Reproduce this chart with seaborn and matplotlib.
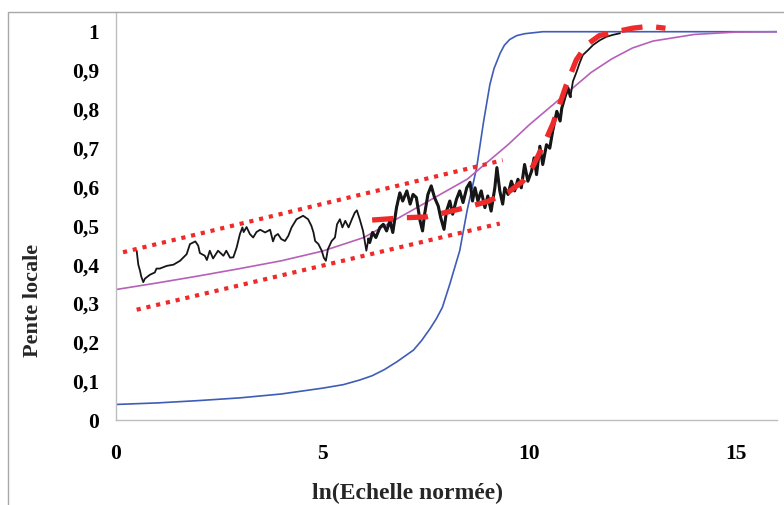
import matplotlib
matplotlib.use("Agg")
import matplotlib.pyplot as plt
import seaborn as sns
from matplotlib.patches import Rectangle

# ---- données ----
y_ticks = [0, 0.1, 0.2, 0.3, 0.4, 0.5, 0.6, 0.7, 0.8, 0.9, 1]
y_tick_labels = ["0", "0,1", "0,2", "0,3", "0,4", "0,5", "0,6", "0,7", "0,8", "0,9", "1"]
x_ticks = [0, 5, 10, 15]
x_tick_labels = ["0", "5", "10", "15"]

# courbe bleue (sigmoïde raide)
blue_x = [0, 1, 2, 3, 4, 5, 5.5, 5.9, 6.2, 6.5, 6.8, 7.2, 7.4, 7.6, 7.75, 7.9, 8.08,
          8.32, 8.5, 8.73, 8.9, 9.05, 9.15, 9.3, 9.4, 9.53, 9.7, 9.9, 10.33, 11, 16]
blue_y = [0.040, 0.044, 0.050, 0.057, 0.067, 0.082, 0.091, 0.103, 0.114, 0.13,
          0.15, 0.18, 0.205, 0.235, 0.26, 0.29, 0.35, 0.436, 0.54, 0.65, 0.77, 0.864,
          0.905, 0.945, 0.965, 0.98, 0.99, 0.995, 1.0, 1.0, 1.0]

# courbe violette (sigmoïde douce)
purple_x = [0, 1, 2, 3, 4, 5, 6, 7, 8, 8.5, 9, 9.5, 10, 10.5, 11, 11.5, 12, 12.5,
            13, 14, 15, 16]
purple_y = [0.336, 0.353, 0.371, 0.39, 0.41, 0.435, 0.47, 0.53, 0.59, 0.62, 0.665,
            0.71, 0.76, 0.805, 0.85, 0.895, 0.93, 0.958, 0.976, 0.993, 0.999, 1.0]

# pente locale mesurée (courbe noire)
black_x = [0.50, 0.54, 0.58, 0.61, 0.66, 0.70, 0.82, 0.94, 0.98, 1.06, 1.23, 1.39,
           1.55, 1.71, 1.79, 1.92, 1.99, 2.03, 2.15, 2.20, 2.27, 2.35, 2.47, 2.60,
           2.67, 2.76, 2.84, 2.92, 3.00, 3.06, 3.09, 3.16, 3.24, 3.32, 3.40, 3.49,
           3.61, 3.73, 3.80, 3.85, 3.92, 4.00, 4.09, 4.17, 4.25, 4.37, 4.53, 4.65,
           4.73, 4.78, 4.82, 4.90, 4.98, 5.03, 5.08, 5.13, 5.22, 5.30, 5.35, 5.42,
           5.48, 5.55, 5.63, 5.71, 5.78, 5.83, 5.90, 5.98, 6.02, 6.06, 6.11, 6.14,
           6.21, 6.29, 6.39, 6.47, 6.55, 6.63, 6.70, 6.79, 6.87, 6.94, 7.04, 7.12,
           7.19, 7.27, 7.36, 7.42, 7.47, 7.55, 7.63, 7.71, 7.80, 7.86, 7.94, 8.00,
           8.08, 8.15, 8.24, 8.32, 8.40, 8.49, 8.57, 8.63, 8.69, 8.76, 8.84, 8.93,
           9.00, 9.08, 9.17, 9.22, 9.29, 9.36, 9.41, 9.49, 9.57, 9.65, 9.73, 9.81,
           9.89, 9.97, 10.06, 10.12, 10.18, 10.26, 10.33, 10.42, 10.50, 10.57, 10.67,
           10.75, 10.79, 10.87, 10.94, 11.00, 11.06, 11.15, 11.22, 11.30, 11.43,
           11.55, 11.71, 11.87, 12.03, 12.20]
black_y = [0.436, 0.40, 0.385, 0.37, 0.355, 0.364, 0.374, 0.38, 0.39, 0.39, 0.397,
           0.40, 0.41, 0.427, 0.453, 0.46, 0.449, 0.43, 0.423, 0.412, 0.436, 0.416,
           0.436, 0.423, 0.436, 0.418, 0.419, 0.444, 0.479, 0.496, 0.484, 0.497,
           0.479, 0.47, 0.484, 0.49, 0.483, 0.49, 0.46, 0.474, 0.479, 0.466, 0.461,
           0.474, 0.496, 0.517, 0.526, 0.517, 0.50, 0.483, 0.461, 0.453, 0.436,
           0.418, 0.41, 0.44, 0.461, 0.47, 0.504, 0.517, 0.496, 0.513, 0.496, 0.517,
           0.534, 0.54, 0.517, 0.487, 0.461, 0.436, 0.466, 0.457, 0.483, 0.47, 0.496,
           0.504, 0.487, 0.513, 0.483, 0.547, 0.585, 0.564, 0.59, 0.556, 0.581,
           0.573, 0.513, 0.487, 0.53, 0.581, 0.603, 0.573, 0.551, 0.521, 0.491,
           0.538, 0.564, 0.53, 0.568, 0.59, 0.56, 0.598, 0.612, 0.564, 0.598, 0.564,
           0.59, 0.547, 0.577, 0.538, 0.598, 0.65, 0.59, 0.556, 0.598, 0.581, 0.615,
           0.59, 0.62, 0.598, 0.658, 0.615, 0.641, 0.675, 0.632, 0.705, 0.658, 0.709,
           0.70, 0.744, 0.795, 0.77, 0.803, 0.833, 0.855, 0.833, 0.872, 0.897, 0.919,
           0.94, 0.953, 0.966, 0.978, 0.987, 0.992, 0.996]

# ajustement (tirets rouges épais)
fit_x = [6.2, 7.0, 7.5, 8.0, 8.5, 9.0, 9.5, 9.85, 10.1, 10.42, 10.58, 10.9, 11.14,
         11.39, 11.7, 12.1, 12.5, 12.9, 13.3]
fit_y = [0.515, 0.521, 0.523, 0.535, 0.548, 0.563, 0.587, 0.615, 0.655, 0.725,
         0.764, 0.863, 0.927, 0.966, 0.99, 1.0, 1.009, 1.014, 1.009]

# enveloppe (pointillés rouges)
upper_x = [0.17, 9.36]
upper_y = [0.432, 0.669]
lower_x = [0.5, 9.29]
lower_y = [0.284, 0.506]

sns.set_style("white")
plt.rcParams["font.family"] = ["Liberation Serif", "DejaVu Serif"]

fig = plt.figure(figsize=(7.84, 5.05), dpi=100)
ax = fig.add_axes([116 / 784, 85 / 505, 661 / 784, 407.7 / 505])

red = "#EE2A2A"
sns.lineplot(x=blue_x, y=blue_y, ax=ax, color="#3F5CB8", lw=1.2, sort=False, estimator=None)
sns.lineplot(x=purple_x, y=purple_y, ax=ax, color="#B660B8", lw=1.2, sort=False, estimator=None)
sns.lineplot(x=black_x, y=black_y, ax=ax, color="#161616", lw=1.3, sort=False, estimator=None)
# partie bruitée : trait plus épais (bruit haute fréquence dense)
dense = [i for i, v in enumerate(black_x) if 6.1 <= v <= 11.0]
sns.lineplot(x=[black_x[i] for i in dense], y=[black_y[i] for i in dense], ax=ax,
             color="#161616", lw=2.2, sort=False, estimator=None)
sns.lineplot(x=upper_x, y=upper_y, ax=ax, color=red, lw=3.0, sort=False, estimator=None,
             linestyle=(0, (1.0, 1.4)))
sns.lineplot(x=lower_x, y=lower_y, ax=ax, color=red, lw=3.0, sort=False, estimator=None,
             linestyle=(0, (1.0, 1.4)))
sns.lineplot(x=fit_x, y=fit_y, ax=ax, color=red, lw=3.8, sort=False, estimator=None,
             linestyle=(0, (4.0, 2.6)))

ax.set_xlim(0, 16)
ax.set_ylim(0, 1.05)
ax.set_xticks(x_ticks)
ax.set_xticklabels(x_tick_labels)
ax.set_yticks(y_ticks)
ax.set_yticklabels(y_tick_labels)
ax.set_xlabel("")
ax.set_ylabel("")

for s in ["top", "right"]:
    ax.spines[s].set_visible(False)
for s in ["left", "bottom"]:
    ax.spines[s].set_color("#BDBDBD")
    ax.spines[s].set_linewidth(1.0)

ax.tick_params(axis="both", which="major", direction="out", length=5, width=1,
               color="#BDBDBD", labelsize=15.5, labelcolor="black")
ax.tick_params(axis="y", pad=7)
ax.tick_params(axis="x", pad=12)
for lab in ax.get_xticklabels() + ax.get_yticklabels():
    lab.set_fontweight("bold")

fig.text(33 / 784, 1 - 300 / 505, "Pente locale", rotation=90, ha="center", va="center",
         fontsize=16, fontweight="bold")
fig.text(408 / 784, 1 - 493 / 505, "ln(Echelle normée)", ha="center", va="center",
         fontsize=17, fontweight="bold")

# cadre gris de la zone graphique
fig.patches.append(Rectangle((8 / 784, -0.05), 1.1, 1 - 12 / 505 + 0.05,
                             transform=fig.transFigure, fill=False,
                             edgecolor="#A8A8A8", lw=1.0))

fig.savefig("out.png", dpi=100)
